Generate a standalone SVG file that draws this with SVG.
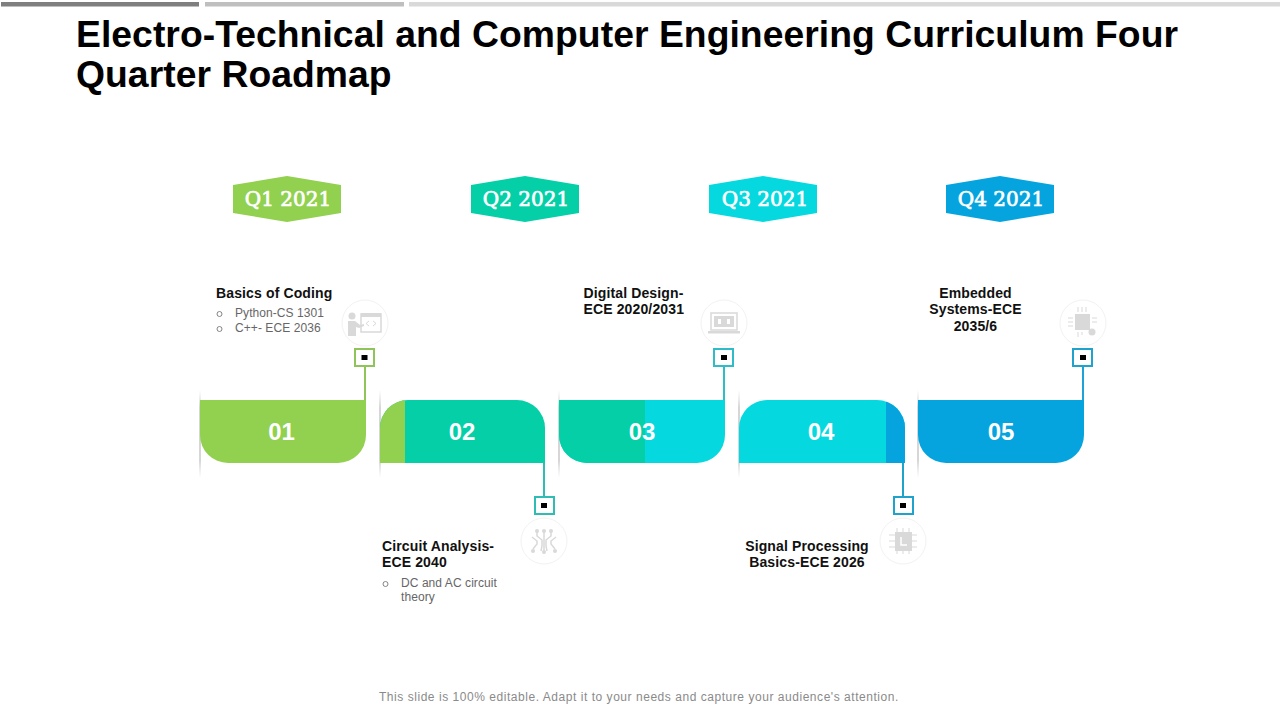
<svg xmlns="http://www.w3.org/2000/svg" width="1280" height="720" viewBox="0 0 1280 720">
<style>
text{font-family:"Liberation Sans",Arial,sans-serif}
.title{font-size:37.3px;font-weight:700;fill:#000;letter-spacing:.04px}
.q{font-family:"DejaVu Serif","Liberation Serif",serif;font-size:20px;font-weight:400;fill:#fff;text-anchor:middle;stroke:#fff;stroke-width:.7}
.num{font-size:24px;font-weight:700;fill:#fff;text-anchor:middle}
.h{font-size:14px;font-weight:700;fill:#111;letter-spacing:.13px}
.hc{font-size:14px;font-weight:700;fill:#111;text-anchor:middle;letter-spacing:.13px}
.b{font-size:12px;fill:#666;letter-spacing:.07px}
.foot{font-size:12px;fill:#8a8a8a;letter-spacing:.54px}
.halo{fill:#fff;stroke:#f2f2f2;stroke-width:1}
.ic{fill:#d9d9d9}
.icl{fill:none;stroke:#d9d9d9;stroke-width:1.5}
.dot{fill:#000}
.bul{fill:none;stroke:#777;stroke-width:.9}
</style>
<defs>
<linearGradient id="sh" x1="0" y1="0" x2="0" y2="1">
<stop offset="0" stop-color="#aaa" stop-opacity="0"/>
<stop offset=".2" stop-color="#999" stop-opacity=".4"/>
<stop offset=".8" stop-color="#999" stop-opacity=".4"/>
<stop offset="1" stop-color="#aaa" stop-opacity="0"/>
</linearGradient>
<clipPath id="c2"><path d="M380 463V428a28 28 0 0 1 28-28H517a28 28 0 0 1 28 28V463Z"/></clipPath>
<clipPath id="c3"><path d="M559 400V435a28 28 0 0 0 28 28H697a28 28 0 0 0 28-28V400Z"/></clipPath>
<clipPath id="c4"><path d="M739 463V428a28 28 0 0 1 28-28H877a28 28 0 0 1 28 28V463Z"/></clipPath>
</defs>
<g id="top-bars">
<rect x="1" y="2" width="198" height="4.500" fill="#7f7f7f"/>
<rect x="205" y="2" width="199" height="4.500" fill="#bfbfbf"/>
<rect x="409" y="2" width="871" height="4.500" fill="#d9d9d9"/>
</g>
<g id="title">
<text class="title" x="76" y="47">Electro-Technical and Computer Engineering Curriculum Four</text>
<text class="title" x="76" y="87">Quarter Roadmap</text>
</g>
<g id="shadows">
<rect x="199" y="390" width="2" height="88" fill="url(#sh)"/>
<rect x="379" y="390" width="2" height="88" fill="url(#sh)"/>
<rect x="558" y="390" width="2" height="88" fill="url(#sh)"/>
<rect x="738" y="390" width="2" height="88" fill="url(#sh)"/>
<rect x="917" y="390" width="2" height="88" fill="url(#sh)"/>
</g>
<g id="connectors" fill="none" stroke-width="2">
<line x1="365" y1="366" x2="365" y2="401" stroke="#8fc45a"/>
<line x1="544" y1="462" x2="544" y2="497" stroke="#2fbcb4"/>
<line x1="724" y1="366" x2="724" y2="401" stroke="#2fbcc8"/>
<line x1="903" y1="462" x2="903" y2="497" stroke="#1fa3cc"/>
<line x1="1083" y1="366" x2="1083" y2="401" stroke="#1fa3d6"/>
</g>
<g id="q1"><polygon points="233,185 287,176 341,185 341,213 287,222 233,213" fill="#92d050"/><text class="q" x="288" y="206">Q1 2021</text></g>
<g id="q2"><polygon points="471,185 525,176 579,185 579,213 525,222 471,213" fill="#05cfa7"/><text class="q" x="526" y="206">Q2 2021</text></g>
<g id="q3"><polygon points="709,185 763,176 817,185 817,213 763,222 709,213" fill="#05d9df"/><text class="q" x="765" y="206">Q3 2021</text></g>
<g id="q4"><polygon points="946,185 1000,176 1054,185 1054,213 1000,222 946,213" fill="#06a4df"/><text class="q" x="1001" y="206">Q4 2021</text></g>
<g id="seg1">
<path d="M200 400V435a28 28 0 0 0 28 28H338a28 28 0 0 0 28-28V400Z" fill="#92d050"/>
<text class="num" x="281.500" y="440">01</text>
</g>
<g id="seg2">
<g clip-path="url(#c2)"><rect x="380" y="400" width="165" height="63" fill="#05cfa7"/><rect x="380" y="400" width="25" height="63" fill="#92d050"/></g>
<text class="num" x="462" y="440">02</text>
</g>
<g id="seg3">
<g clip-path="url(#c3)"><rect x="559" y="400" width="166" height="63" fill="#05d9df"/><rect x="559" y="400" width="86" height="63" fill="#05cfa7"/></g>
<text class="num" x="642" y="440">03</text>
</g>
<g id="seg4">
<g clip-path="url(#c4)"><rect x="739" y="400" width="166" height="63" fill="#05d9df"/><rect x="886" y="400" width="19" height="63" fill="#06a4df"/></g>
<text class="num" x="821" y="440">04</text>
</g>
<g id="seg5">
<path d="M918 400V435a28 28 0 0 0 28 28H1056a28 28 0 0 0 28-28V400Z" fill="#06a4df"/>
<text class="num" x="1001" y="440">05</text>
</g>
<g id="marker1"><rect x="355" y="349" width="19" height="17" fill="#fff" stroke="#8fc45a" stroke-width="2"/><rect class="dot" x="361.500" y="355" width="6" height="5"/></g>
<g id="marker2"><rect x="535" y="497" width="19" height="17" fill="#fff" stroke="#2fbcb4" stroke-width="2"/><rect class="dot" x="541" y="503" width="6" height="5"/></g>
<g id="marker3"><rect x="714" y="349" width="19" height="17" fill="#fff" stroke="#2fbcc8" stroke-width="2"/><rect class="dot" x="721" y="355" width="6" height="5"/></g>
<g id="marker4"><rect x="894" y="497" width="19" height="17" fill="#fff" stroke="#1fa3cc" stroke-width="2"/><rect class="dot" x="900" y="503" width="6" height="5"/></g>
<g id="marker5"><rect x="1073" y="349" width="19" height="17" fill="#fff" stroke="#1fa3cc" stroke-width="2"/><rect class="dot" x="1080" y="355" width="6" height="5"/></g>
<g id="text1">
<text class="h" x="216" y="298">Basics of Coding</text>
<circle class="bul" cx="219.500" cy="314" r="2.500"/><text class="b" x="235" y="317">Python-CS 1301</text>
<circle class="bul" cx="219.500" cy="329" r="2.500"/><text class="b" x="235" y="332">C++- ECE 2036</text>
</g>
<g id="icon1">
<circle class="halo" cx="365" cy="323" r="23"/>
<circle class="ic" cx="352" cy="316" r="3.500"/>
<path class="ic" d="M348 321h7l5 4 4-1v2l-5 2-3-1v9h-8Z"/>
<rect class="icl" x="361" y="314" width="20" height="18"/>
<rect class="ic" x="361" y="313" width="20" height="4"/>
<path class="icl" d="M369 321l-3 2.500 3 2.500M373 321l3 2.500-3 2.500" style="stroke-width:1"/>
</g>
<g id="text3">
<text class="h" x="583.500" y="298">Digital Design-</text>
<text class="h" x="583.500" y="314">ECE 2020/2031</text>
</g>
<g id="icon3">
<circle class="halo" cx="724" cy="323" r="23"/>
<rect class="icl" x="711" y="313" width="26" height="17"/>
<rect class="ic" x="714" y="316" width="20" height="11"/>
<rect x="718" y="319" width="3" height="5" fill="#fff"/><rect x="727" y="319" width="3" height="5" fill="#fff"/>
<rect class="ic" x="708" y="331" width="32" height="2.500"/>
</g>
<g id="text5">
<text class="hc" x="975.500" y="298">Embedded</text>
<text class="hc" x="975.500" y="314">Systems-ECE</text>
<text class="hc" x="975.500" y="331">2035/6</text>
</g>
<g id="icon5">
<circle class="halo" cx="1083" cy="323" r="23"/>
<rect class="ic" x="1075" y="314" width="15" height="16"/>
<path class="icl" style="stroke-width:1" d="M1078 307v5M1082 307v5M1086 307v5M1068 318h5M1068 322h5M1068 326h5M1092 318h5M1092 322h5M1078 332v5M1082 332v3"/>
<circle class="ic" cx="1092" cy="332" r="3.500"/>
</g>
<g id="text2">
<text class="h" x="382" y="551">Circuit Analysis-</text>
<text class="h" x="382" y="567">ECE 2040</text>
<circle class="bul" cx="385.500" cy="584" r="2.500"/><text class="b" x="401" y="587">DC and AC circuit</text>
<text class="b" x="401" y="601">theory</text>
</g>
<g id="icon2">
<circle class="halo" cx="544" cy="541" r="23"/>
<path class="icl" d="M544 531v21M537 531v5l5 4v6l-1 5M551 531v5l-5 4v6l1 5M532 537l5 4v3l-4 5M556 537l-5 4v3l4 5"/>
<circle class="ic" cx="544" cy="531" r="2"/><circle class="ic" cx="537" cy="531" r="2"/><circle class="ic" cx="551" cy="531" r="2"/><circle class="ic" cx="544" cy="552" r="2"/><circle class="ic" cx="533" cy="551" r="2"/><circle class="ic" cx="555" cy="551" r="2"/>
</g>
<g id="text4">
<text class="hc" x="807" y="551">Signal Processing</text>
<text class="hc" x="807" y="567">Basics-ECE 2026</text>
</g>
<g id="icon4">
<circle class="halo" cx="903" cy="541" r="23"/>
<path class="icl" style="stroke-width:1" d="M889 535h28M889 541h28M889 547h28M897 528v26M903 528v26M909 528v26"/>
<rect class="ic" x="895" y="532" width="17" height="19"/>
<path d="M901 537v8h6" fill="none" stroke="#fff" stroke-width="1.500"/>
</g>
<text id="footer" class="foot" x="379" y="701">This slide is 100% editable. Adapt it to your needs and capture your audience's attention.</text>
</svg>
